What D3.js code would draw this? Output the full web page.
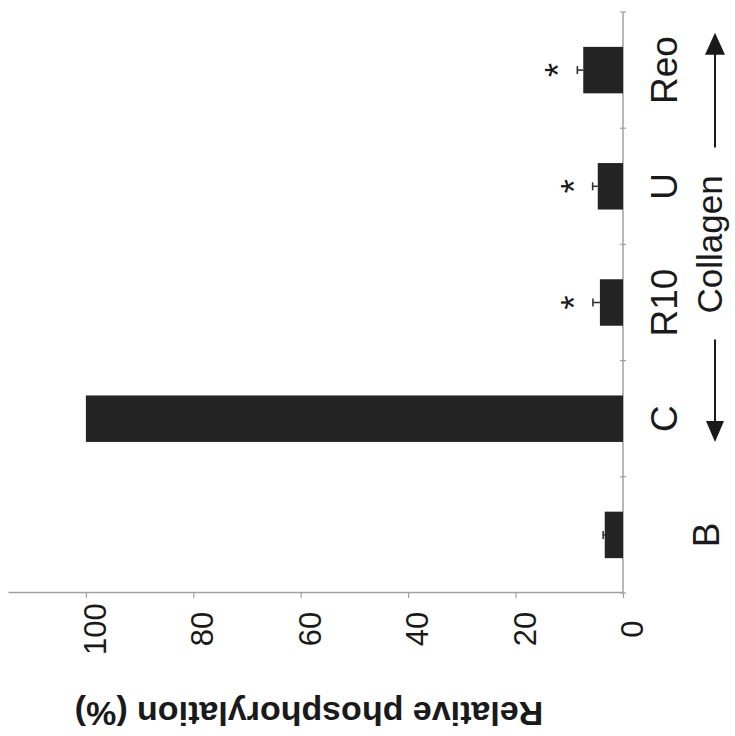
<!DOCTYPE html>
<html>
<head>
<meta charset="utf-8">
<script src="https://cdn.jsdelivr.net/npm/d3@7"></script>
<style>
body { margin: 0; background: #fff; }
text { font-family: "Liberation Sans", Arial, sans-serif; fill: #1a1a1a; }
</style>
</head>
<body>
<div id="chart"></div>
<script>
var categories = ["B", "C", "R10", "U", "Reo"];
var values = [3.4, 100, 4.3, 4.7, 7.4];
var errors = [0.3, 0, 1.3, 0.95, 1.1];
var signif = [false, false, true, true, true];
var labelRow = [1, 0, 0, 0, 0];
var yTicks = [0, 20, 40, 60, 80, 100];
var groupLabel = "Collagen";
var yTitle = "Relative phosphorylation (%)";

var W = 735, H = 736;
var svg = d3.select("#chart").append("svg")
    .attr("width", W)
    .attr("height", H);

// the figure is drawn upright, then turned a quarter turn to the left like the scan
var g = svg.append("g")
    .attr("transform", "translate(0," + H + ") rotate(-90)");

var x = d3.scaleBand()
    .domain(categories)
    .range([143, 724])
    .paddingInner(0.6)
    .paddingOuter(0.3);
var y = d3.scaleLinear()
    .domain([0, 114.5])
    .range([623, 8]);
var bw = x.bandwidth();

var data = categories.map(function(c, i) {
    return {cat: c, v: values[i], e: errors[i], star: signif[i], row: labelRow[i]};
});

// value axis
var yAxis = g.append("g")
    .attr("transform", "translate(143,0)")
    .call(d3.axisLeft(y).tickValues(yTicks).tickSize(5).tickSizeOuter(0).tickFormat(""));
yAxis.select(".domain").attr("stroke", "#a0a0a0").attr("stroke-width", 1.5);
yAxis.selectAll(".tick line").attr("stroke", "#a0a0a0").attr("stroke-width", 1.2);

g.selectAll(".ylab")
    .data(yTicks)
    .enter()
    .append("text")
    .attr("class", "ylab")
    .attr("x", 107)
    .attr("y", function(d) { return y(d) + 20; })
    .attr("text-anchor", "middle")
    .style("font-size", "31px")
    .text(function(d) { return d; });

// category axis
var base = y(0);
g.append("line")
    .attr("x1", 143).attr("x2", 724)
    .attr("y1", base).attr("y2", base)
    .attr("stroke", "#a0a0a0").attr("stroke-width", 1.5);
g.selectAll(".xtick")
    .data(d3.range(categories.length + 1))
    .enter()
    .append("line")
    .attr("class", "xtick")
    .attr("x1", function(i) { return 143 + i * x.step(); })
    .attr("x2", function(i) { return 143 + i * x.step(); })
    .attr("y1", base - 3).attr("y2", base + 3)
    .attr("stroke", "#a0a0a0").attr("stroke-width", 1.2);

// bars
g.selectAll(".bar")
    .data(data)
    .enter()
    .append("rect")
    .attr("class", "bar")
    .attr("x", function(d) { return x(d.cat); })
    .attr("y", function(d) { return y(d.v); })
    .attr("width", bw)
    .attr("height", function(d) { return base - y(d.v); })
    .attr("fill", "#242424");

// error bars
var withErr = data.filter(function(d) { return d.e > 0; });
g.selectAll(".err")
    .data(withErr)
    .enter()
    .append("line")
    .attr("class", "err")
    .attr("x1", function(d) { return x(d.cat) + bw / 2; })
    .attr("x2", function(d) { return x(d.cat) + bw / 2; })
    .attr("y1", function(d) { return y(d.v); })
    .attr("y2", function(d) { return y(d.v + d.e); })
    .attr("stroke", "#333").attr("stroke-width", 1.6);
g.selectAll(".cap")
    .data(withErr)
    .enter()
    .append("line")
    .attr("class", "cap")
    .attr("x1", function(d) { return x(d.cat) + bw / 2 - 4; })
    .attr("x2", function(d) { return x(d.cat) + bw / 2 + 4; })
    .attr("y1", function(d) { return y(d.v + d.e); })
    .attr("y2", function(d) { return y(d.v + d.e); })
    .attr("stroke", "#333").attr("stroke-width", 1.6);

// significance stars
g.selectAll(".star")
    .data(data.filter(function(d) { return d.star; }))
    .enter()
    .append("text")
    .attr("class", "star")
    .attr("x", function(d) { return x(d.cat) + bw / 2; })
    .attr("y", function(d) { return y(d.v + d.e) - 6; })
    .attr("text-anchor", "middle")
    .style("font-size", "36px")
    .text("*");

// category labels
g.selectAll(".xlab")
    .data(data)
    .enter()
    .append("text")
    .attr("class", "xlab")
    .attr("x", function(d) { return x(d.cat) + bw / 2; })
    .attr("y", function(d) { return d.row ? 719 : 677; })
    .attr("text-anchor", "middle")
    .style("font-size", "37px")
    .text(function(d) { return d.cat; });

// "Collagen" with arrows from C to Reo
var leftTip = x("C");
var rightTip = x("Reo") + bw + 14;
var mid = (x("C") + x("Reo") + bw) / 2;
var ay = 715;
g.append("text")
    .attr("x", mid)
    .attr("y", 722)
    .attr("text-anchor", "middle")
    .style("font-size", "35px")
    .text(groupLabel);
g.append("line")
    .attr("x1", mid - 95).attr("x2", leftTip + 18)
    .attr("y1", ay).attr("y2", ay)
    .attr("stroke", "#1a1a1a").attr("stroke-width", 2);
g.append("line")
    .attr("x1", mid + 97).attr("x2", rightTip - 18)
    .attr("y1", ay).attr("y2", ay)
    .attr("stroke", "#1a1a1a").attr("stroke-width", 2);
g.append("path")
    .attr("d", "M" + leftTip + "," + ay + "L" + (leftTip + 21) + "," + (ay - 9) + "L" + (leftTip + 21) + "," + (ay + 9) + "Z")
    .attr("fill", "#1a1a1a");
g.append("path")
    .attr("d", "M" + rightTip + "," + ay + "L" + (rightTip - 22) + "," + (ay - 10) + "L" + (rightTip - 22) + "," + (ay + 10) + "Z")
    .attr("fill", "#1a1a1a");

// value axis title
g.append("text")
    .attr("transform", "translate(34,309) rotate(-90)")
    .attr("text-anchor", "middle")
    .style("font-size", "34px")
    .style("font-weight", "bold")
    .text(yTitle);
</script>
</body>
</html>
